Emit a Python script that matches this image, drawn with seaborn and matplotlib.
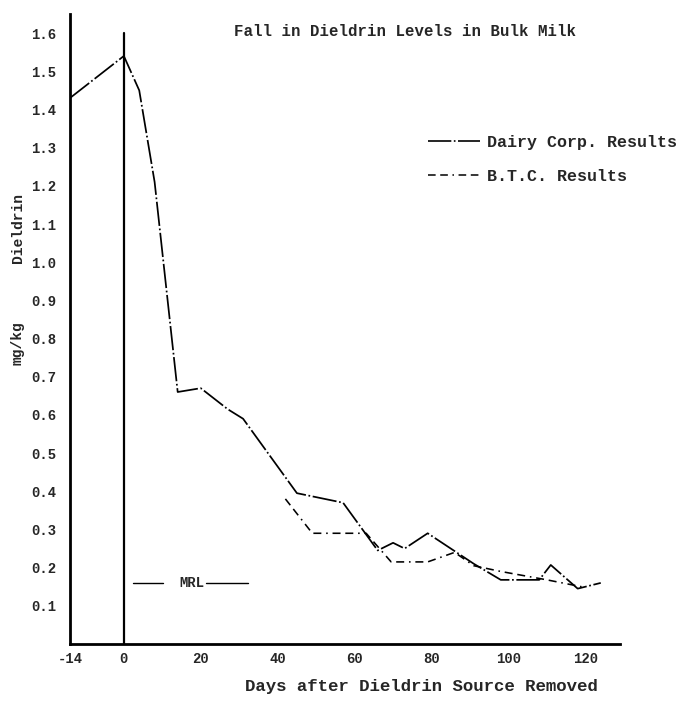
import matplotlib
matplotlib.use("Agg")
import matplotlib.pyplot as plt
import seaborn as sns
from matplotlib.lines import Line2D

# ---- data ----
dairy_days = [-14, 0, 4, 8, 14, 20, 27, 31, 45, 57, 66, 70, 73, 79, 91, 98, 108, 111, 118, 124]
dairy_vals = [1.43, 1.54, 1.45, 1.21, 0.66, 0.67, 0.615, 0.59, 0.395, 0.37,
              0.245, 0.265, 0.25, 0.29, 0.21, 0.168, 0.168, 0.207, 0.145, 0.16]
btc_days = [42, 49, 63, 69.5, 79, 86, 91, 98, 110, 119]
btc_vals = [0.38, 0.29, 0.29, 0.215, 0.215, 0.24, 0.205, 0.19, 0.168, 0.15]
mrl_value = 0.16
x_ticks = [-14, 0, 20, 40, 60, 80, 100, 120]
y_ticks = [0.1, 0.2, 0.3, 0.4, 0.5, 0.6, 0.7, 0.8, 0.9, 1.0, 1.1, 1.2, 1.3, 1.4, 1.5, 1.6]
series_labels = ["Dairy Corp. Results", "B.T.C. Results"]

sns.set_theme(style="white")
plt.rcParams['font.family'] = ['Liberation Mono', 'DejaVu Sans Mono', 'DejaVu Sans']
plt.rcParams['font.weight'] = 'bold'
TICK_FS = 10
BIG_FS = 12

fig = plt.figure(figsize=(7, 7.09), dpi=100)
ax = fig.add_axes([70/700, 1 - 644/709, 550/700, 630/709])

dairy_ls = (0, (14, 1.5, 1, 1.5))
btc_ls = (0, (5, 3, 5, 3, 1, 3))

sns.lineplot(x=dairy_days, y=dairy_vals, ax=ax, color="black", linewidth=1.25,
             linestyle=dairy_ls, sort=False)
sns.lineplot(x=btc_days, y=btc_vals, ax=ax, color="black", linewidth=1.15,
             linestyle=btc_ls, sort=False)

ax.set_xlim(-14, 129)
ax.set_ylim(0, 1.65)

# vertical line at day 0
ax.plot([0, 0], [0, 1.6], color="black", linewidth=1.6)

# MRL marker
ax.plot([2.3, 10.2], [mrl_value, mrl_value], color="black", linewidth=1.0)
ax.plot([21.4, 32.3], [mrl_value, mrl_value], color="black", linewidth=1.0)
ax.text(14.5, mrl_value, "MRL", ha="left", va="center", fontsize=10)

ax.set_xticks(x_ticks)
ax.set_xticklabels([str(t) for t in x_ticks], fontsize=TICK_FS)
ax.set_yticks(y_ticks)
ax.set_yticklabels([f"{t:.1f}" for t in y_ticks], fontsize=TICK_FS)
ax.tick_params(axis="both", length=0)
ax.tick_params(axis="y", pad=10)
ax.tick_params(axis="x", pad=6)

for s in ["top", "right"]:
    ax.spines[s].set_visible(False)
for s in ["left", "bottom"]:
    ax.spines[s].set_color("black")
    ax.spines[s].set_linewidth(2.0)

ax.set_xlabel("")
ax.set_ylabel("")

fig.text(245/700, 1 - 686/709, "Days after Dieldrin Source Removed", ha="left",
         va="center", fontsize=12.5)
fig.text(234/700, 1 - 32/709, "Fall in Dieldrin Levels in Bulk Milk", ha="left",
         va="center", fontsize=11.3)
fig.text(18/700, 1 - 228/709, "Dieldrin", rotation=90, ha="center", va="center",
         fontsize=10.5)
fig.text(18/700, 1 - 343/709, "mg/kg", rotation=90, ha="center", va="center",
         fontsize=10.5)

handles = [Line2D([0], [0], color="black", linewidth=1.2, linestyle=dairy_ls),
           Line2D([0], [0], color="black", linewidth=1.1, linestyle=btc_ls)]
fig.legend(handles, series_labels, loc="upper left",
           bbox_to_anchor=(428/700, 1 - 135/709), frameon=False, fontsize=BIG_FS,
           handlelength=3.1, handletextpad=0.45, labelspacing=1.15,
           borderpad=0, borderaxespad=0)

fig.savefig("out.png", dpi=100, facecolor="white")
